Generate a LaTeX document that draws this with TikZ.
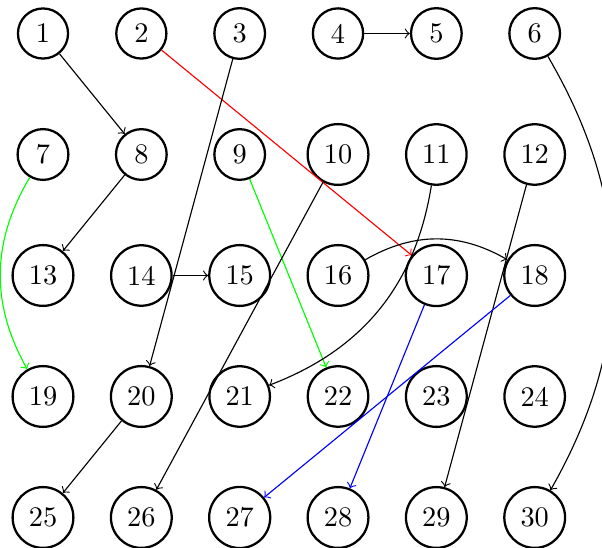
\documentclass[tikz,border=0pt]{standalone}
\begin{document}
\begin{tikzpicture}[x=0.3527pt,y=0.3527pt, vtx/.style={circle,draw,thick}, >=to]
\useasboundingbox (0,0) rectangle (602,-548);
\foreach \i in {1,...,30} {
  \pgfmathtruncatemacro\cc{mod(\i-1,6)}
  \pgfmathtruncatemacro\rr{div(\i-1,6)}
  \node[vtx] (n\i) at ({43+98.34*\cc},{-(33.5+121*\rr)}) {\i};
}
\draw[->] (n1) -- (n8);
\draw[->,red] (n2) -- (n17);
\draw[->] (n3) -- (n20);
\draw[->] (n4) -- (n5);
\draw[->] (n6) to[bend left] (n30);
\draw[->,green] (n7) to[bend right] (n19);
\draw[->] (n8) -- (n13);
\draw[->,green] (n9) -- (n22);
\draw[->] (n10) -- (n26);
\draw[->] (n11) to[bend left] (n21);
\draw[->] (n12) -- (n29);
\draw[->] (n14) -- (n15);
\draw[->] (n16) to[bend left] (n18);
\draw[->,blue] (n17) -- (n28);
\draw[->,blue] (n18) -- (n27);
\draw[->] (n20) -- (n25);
\end{tikzpicture}
\end{document}
